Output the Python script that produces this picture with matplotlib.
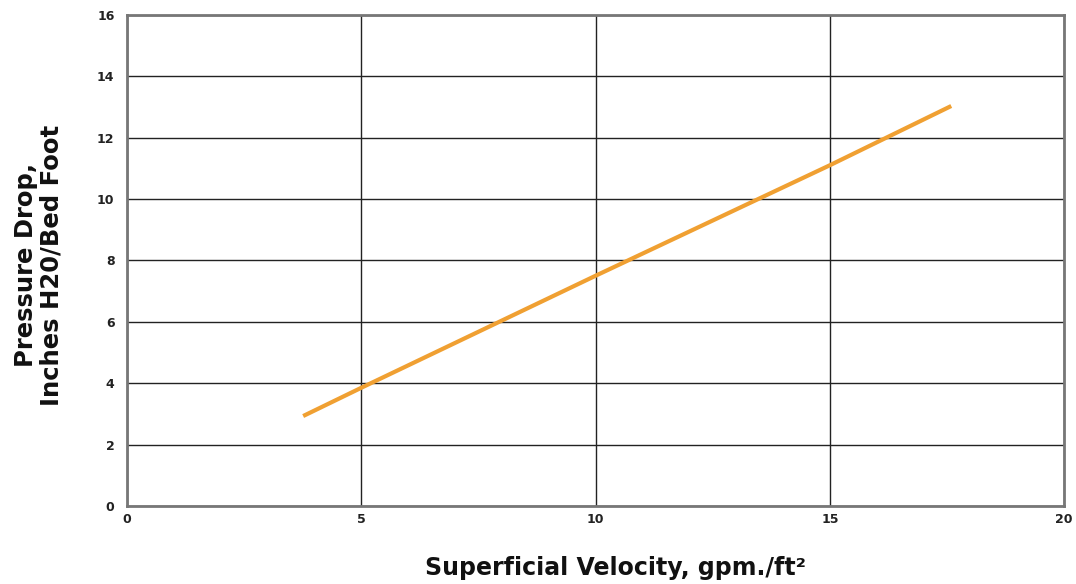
import numpy as np
import matplotlib.pyplot as plt

# 读图得到的数据
velocity = [3.76, 5.0, 10.0, 15.0, 17.59]
pressure_drop = [2.93, 3.85, 7.5, 11.1, 13.03]

x_ticks = [0, 5, 10, 15, 20]
y_ticks = [0, 2, 4, 6, 8, 10, 12, 14, 16]

plt.rcParams['font.family'] = ['DejaVu Sans']

fig = plt.figure(figsize=(10.76, 5.84), dpi=100)
ax = fig.add_axes([0.118, 0.1336, 0.871, 0.841])

ax.plot(velocity, pressure_drop, color='#F0A032', linewidth=3, solid_capstyle='butt', zorder=3)

ax.set_xlim(0, 20)
ax.set_ylim(0, 16)
ax.set_xticks(x_ticks)
ax.set_yticks(y_ticks)
ax.tick_params(length=0, labelsize=9)
ax.tick_params(axis='x', pad=5)
ax.tick_params(axis='y', pad=9)
for lab in ax.get_xticklabels() + ax.get_yticklabels():
    lab.set_fontweight('bold')
    lab.set_color('#222222')

ax.grid(True, color='#222222', linewidth=1.0)
ax.set_axisbelow(True)
for s in ax.spines.values():
    s.set_color('#777777')
    s.set_linewidth(2)

fig.text(0.572, 0.027, 'Superficial Velocity, gpm./ft²', ha='center', va='center',
         fontsize=17, fontweight='bold', color='#111111')
fig.text(0.036, 0.546, 'Pressure Drop,\nInches H20/Bed Foot', ha='center', va='center',
         rotation=90, fontsize=17.5, fontweight='bold', color='#111111', linespacing=1.1)

fig.savefig('out.png', dpi=100)
